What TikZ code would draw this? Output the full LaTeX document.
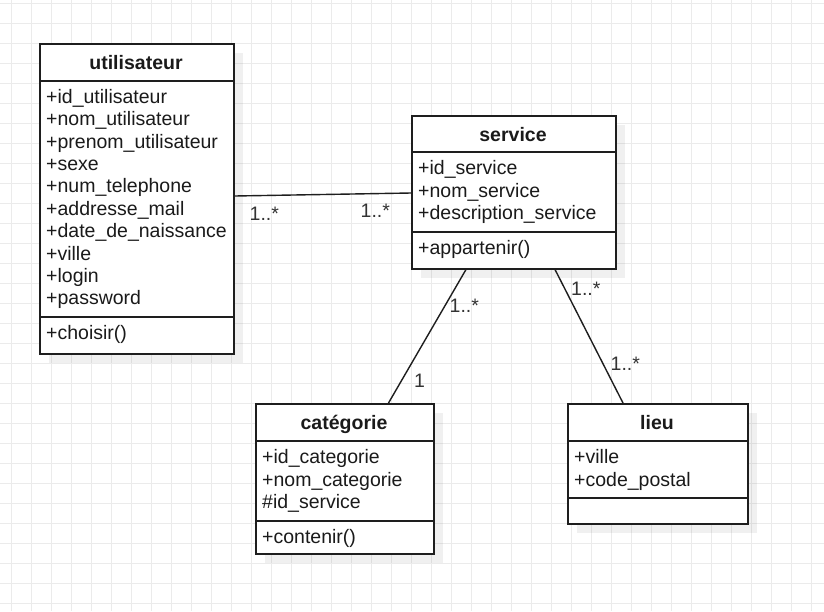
\documentclass[tikz,border=0pt]{standalone}
\usepackage{fontspec}
\setmainfont{Liberation Sans}
\usetikzlibrary{calc}
\definecolor{gridc}{HTML}{EBEBEB}
\definecolor{linec}{HTML}{1E1E1E}
\definecolor{txtc}{HTML}{1A1A1A}
\definecolor{lblc}{HTML}{333333}
\tikzset{
  classbox/.style={draw=linec, line width=1.5pt, fill=white, inner sep=0pt, anchor=north west},
  shadowbox/.style={fill=black, fill opacity=0.06, draw=none},
  sepline/.style={draw=linec, line width=1.5pt},
  txt/.style={inner sep=0pt, anchor=base west, text=txtc, font=\fontsize{19.5}{22.4}\selectfont},
  ttl/.style={inner sep=0pt, anchor=base, text=txtc, font=\fontsize{19.5}{22.4}\selectfont\bfseries},
  lbl/.style={inner sep=0pt, anchor=base west, text=lblc, font=\fontsize{19.5}{22.4}\selectfont},
  conn/.style={draw=linec, line width=1.4pt},
}
\begin{document}
\begin{tikzpicture}[x=1pt, y=-1pt]
\useasboundingbox (0,0) rectangle (824,611);
\fill[white] (0,0) rectangle (824,611);
% grid
\foreach \gx in {11.7,31.7,...,811.7} \draw[gridc, line width=1pt] (\gx,0) -- (\gx,611);
\foreach \gy in {3.3,23.3,...,603.3} \draw[gridc, line width=1pt] (0,\gy) -- (824,\gy);

% ---------- utilisateur
\fill[shadowbox] (49,53) rectangle (243,363);
\node[classbox, minimum width=194pt, minimum height=310pt] (util) at (39,43) {};
\draw[sepline] ($(util.north west)+(0,38)$) -- ($(util.north east)+(0,38)$);
\draw[sepline] ($(util.north west)+(0,274)$) -- ($(util.north east)+(0,274)$);
\node[ttl] (utilT) at (136,69) {utilisateur};
\foreach \t [count=\i from 0] in {+id\_utilisateur,+nom\_utilisateur,+prenom\_utilisateur,+sexe,+num\_telephone,+addresse\_mail,+date\_de\_naissance,+ville,+login,+password}
  \node[txt] (utilA\i) at (46,103.3+22.4*\i) {\t};
\node[txt] (utilM0) at (46,339.5) {+choisir()};

% ---------- service
\fill[shadowbox] (421,125) rectangle (625,278);
\node[classbox, minimum width=204pt, minimum height=153pt] (serv) at (411,115) {};
\draw[sepline] ($(serv.north west)+(0,37)$) -- ($(serv.north east)+(0,37)$);
\draw[sepline] ($(serv.north west)+(0,117)$) -- ($(serv.north east)+(0,117)$);
\node[ttl] (servT) at (513,141) {service};
\foreach \t [count=\i from 0] in {+id\_service,+nom\_service,+description\_service}
  \node[txt] (servA\i) at (418,174.8+22.4*\i) {\t};
\node[txt] (servM0) at (418,254.8) {+appartenir()};

% ---------- categorie
\fill[shadowbox] (265,413) rectangle (443,563);
\node[classbox, minimum width=178pt, minimum height=150pt] (cat) at (255,403) {};
\draw[sepline] ($(cat.north west)+(0,38)$) -- ($(cat.north east)+(0,38)$);
\draw[sepline] ($(cat.north west)+(0,118)$) -- ($(cat.north east)+(0,118)$);
\node[ttl] (catT) at (344,429) {catégorie};
\foreach \t [count=\i from 0] in {+id\_categorie,+nom\_categorie,\#id\_service}
  \node[txt] (catA\i) at (262,463.6+22.4*\i) {\t};
\node[txt] (catM0) at (262,543.6) {+contenir()};

% ---------- lieu
\fill[shadowbox] (577,413) rectangle (757,533);
\node[classbox, minimum width=180pt, minimum height=120pt] (lieu) at (567,403) {};
\draw[sepline] ($(lieu.north west)+(0,38)$) -- ($(lieu.north east)+(0,38)$);
\draw[sepline] ($(lieu.north west)+(0,95)$) -- ($(lieu.north east)+(0,95)$);
\node[ttl] (lieuT) at (657,429) {lieu};
\foreach \t [count=\i from 0] in {+ville,+code\_postal}
  \node[txt] (lieuA\i) at (574,463.6+22.4*\i) {\t};

% ---------- connectors
\draw[conn] ($(util.north east)+(0,153)$) -- ($(serv.north west)+(0,78)$);
\draw[conn] ($(serv.south west)+(55,0)$) -- ($(cat.north west)+(133.5,0)$);
\draw[conn] ($(serv.south west)+(144,0)$) -- ($(lieu.north west)+(56,0)$);

% ---------- multiplicities
\node[lbl] (m1) at (249.5,220) {1..*};
\node[lbl] (m2) at (360.5,217.3) {1..*};
\node[lbl] (m3) at (449.5,312.3) {1..*};
\node[lbl] (m4) at (414,387.3) {1};
\node[lbl] (m5) at (571,295) {1..*};
\node[lbl] (m6) at (610.5,370) {1..*};
\end{tikzpicture}
\end{document}
